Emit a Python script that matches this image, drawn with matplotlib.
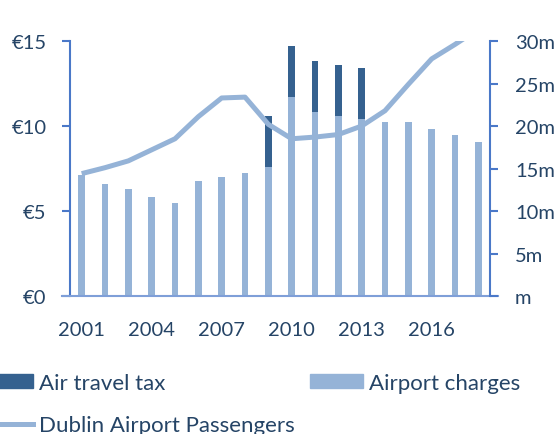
import numpy as np
import matplotlib.pyplot as plt
from matplotlib.patches import Patch
from matplotlib.lines import Line2D

years = list(range(2001, 2019))
airport_charges = [7.1, 6.6, 6.3, 5.85, 5.45, 6.75, 7.0, 7.25, 7.6, 11.7,
                   10.8, 10.6, 10.4, 10.25, 10.25, 9.85, 9.45, 9.05]
air_travel_tax = [0, 0, 0, 0, 0, 0, 0, 0, 3.0, 3.0,
                  3.0, 3.0, 3.0, 0, 0, 0, 0, 0]
passengers_m = [14.4, 15.1, 15.9, 17.2, 18.5, 21.1, 23.3, 23.4, 20.2, 18.5,
                18.7, 19.0, 20.0, 21.8, 24.9, 27.9, 29.6, 31.4]
xtick_years = [2001, 2004, 2007, 2010, 2013, 2016]
left_ticks = [0, 5, 10, 15]
left_labels = ["€0", "€5", "€10", "€15"]
right_ticks = [0, 5, 10, 15, 20, 25, 30]
right_labels = ["m", "5m", "10m", "15m", "20m", "25m", "30m"]

dark = "#35618F"
light = "#95B3D7"
spine = "#4A78C8"
text_col = "#254466"

plt.rcParams["font.family"] = ["Lato", "DejaVu Sans"]
plt.rcParams["font.size"] = 14.5

fig = plt.figure(figsize=(5.57, 4.35), dpi=100)
ax = fig.add_axes([0.1257, 0.3172, 0.754, 0.5862])
x = np.arange(len(years))
w = 0.28
ax.bar(x, airport_charges, width=w, color=light, zorder=2)
ax.bar(x, air_travel_tax, width=w, bottom=airport_charges, color=dark, zorder=2)
ax.set_xlim(-0.5, len(years) - 0.5)
ax.set_ylim(0, 15)
ax.set_yticks(left_ticks, left_labels)
ax.set_xticks([years.index(y) for y in xtick_years], [str(y) for y in xtick_years])
ax.tick_params(axis="x", length=0, pad=18, colors=text_col)
ax.tick_params(axis="y", length=6, width=1.5, color=spine, labelcolor=text_col, pad=11)
for s in ["top", "right"]:
    ax.spines[s].set_visible(False)
ax.spines["left"].set_color(spine)
ax.spines["left"].set_linewidth(1.5)
ax.spines["bottom"].set_color("#7F9FD8")
ax.spines["bottom"].set_linewidth(1.5)
ax.spines["bottom"].set_bounds(-0.84, len(years) - 0.16)

ax2 = ax.twinx()
ax2.plot(x, passengers_m, color=light, lw=3.6, solid_capstyle="butt", zorder=3)
ax2.set_ylim(0, 30)
ax2.set_yticks(right_ticks, right_labels)
ax2.tick_params(axis="y", length=6, width=1.5, color=spine, labelcolor=text_col, pad=12)
for s in ["top", "left", "bottom"]:
    ax2.spines[s].set_visible(False)
ax2.spines["right"].set_color(spine)
ax2.spines["right"].set_linewidth(1.5)

leg_kw = dict(loc="upper left", bbox_transform=fig.transFigure, frameon=False,
              fontsize=16, handlelength=2.4, handleheight=0.6, handletextpad=0.27,
              labelspacing=1.0, borderaxespad=0, borderpad=0, labelcolor=text_col)
leg1 = fig.legend([Patch(color=dark), Line2D([], [], color=light, lw=3.6)],
                  ["Air travel tax", "Dublin Airport Passengers"],
                  bbox_to_anchor=(-20 / 557, 1 - 374 / 435), **leg_kw)
leg2 = fig.legend([Patch(color=light)], ["Airport charges"],
                  bbox_to_anchor=(310 / 557, 1 - 374 / 435), **leg_kw)

fig.savefig("out.png", dpi=100)
